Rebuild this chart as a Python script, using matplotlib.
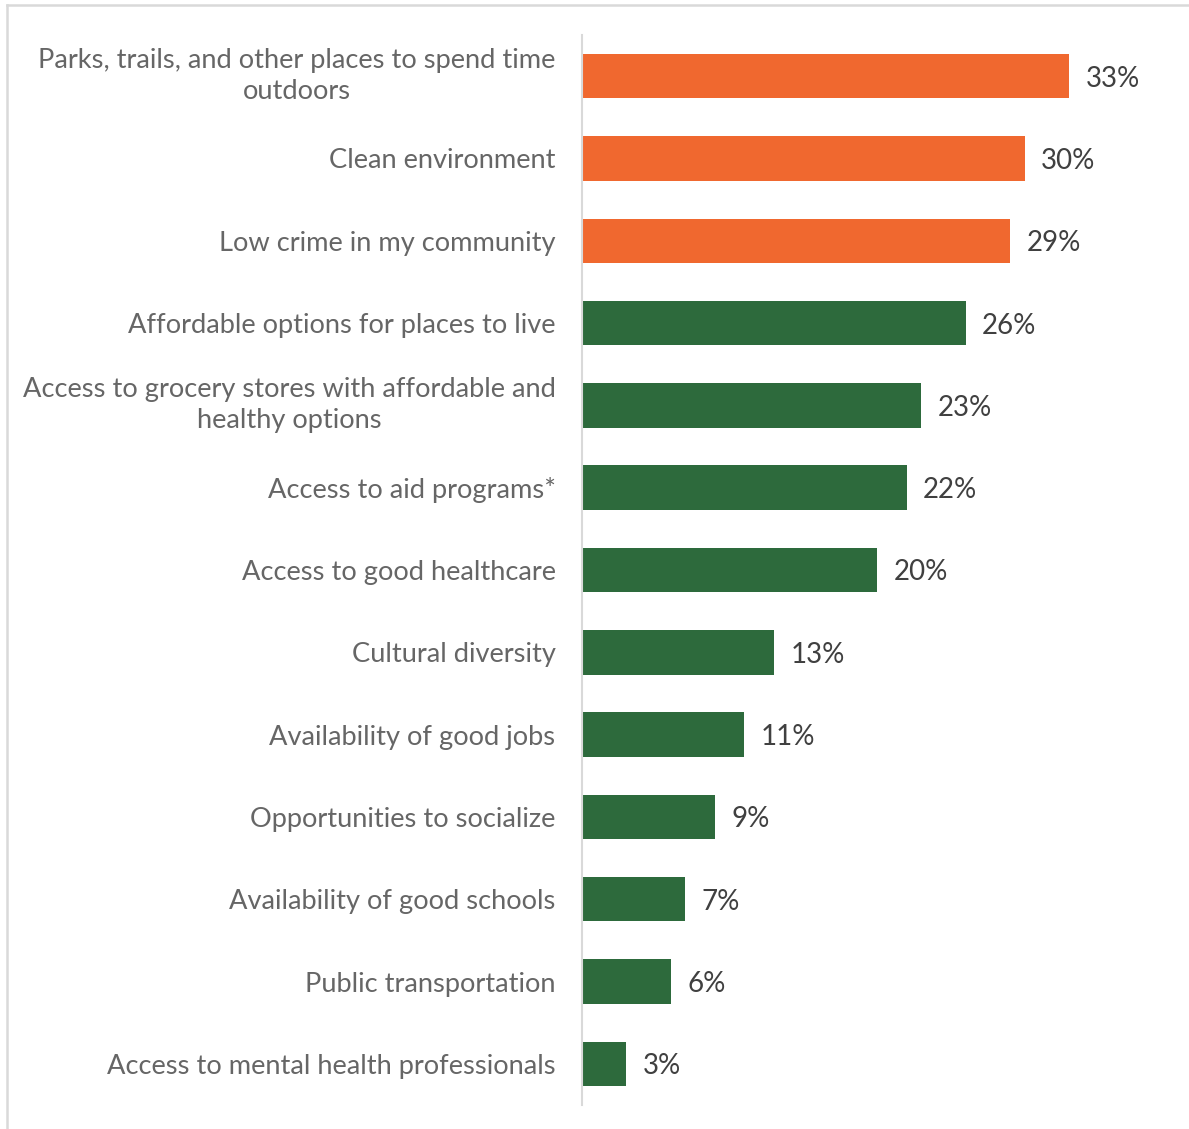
import matplotlib
matplotlib.use("Agg")
import matplotlib.pyplot as plt
from matplotlib.lines import Line2D

categories = [
    "Parks, trails, and other places to spend time\noutdoors",
    "Clean environment",
    "Low crime in my community",
    "Affordable options for places to live",
    "Access to grocery stores with affordable and\nhealthy options",
    "Access to aid programs*",
    "Access to good healthcare",
    "Cultural diversity",
    "Availability of good jobs",
    "Opportunities to socialize",
    "Availability of good schools",
    "Public transportation",
    "Access to mental health professionals",
]
values = [33, 30, 29, 26, 23, 22, 20, 13, 11, 9, 7, 6, 3]
highlight_count = 3

ORANGE = "#F0682F"
GREEN = "#2D6A3C"
LABEL_GRAY = "#666666"
VALUE_GRAY = "#404040"

plt.rcParams["font.family"] = ["Lato", "DejaVu Sans"]

W, H = 1189, 1129
fig = plt.figure(figsize=(W / 100, H / 100), dpi=100)
fig.patch.set_facecolor("white")

ax = fig.add_axes([582 / W, 24 / H, 531 / W, 1070 / H])
colors = [ORANGE if i < highlight_count else GREEN for i in range(len(values))]
ypos = list(range(len(values)))
ax.barh(ypos, values, height=0.54, color=colors)

ax.set_xlim(0, 36)
ax.set_ylim(len(values) - 0.5, -0.5)
ax.set_yticks(ypos)
ax.set_yticklabels(categories, fontsize=19.6, color=LABEL_GRAY, fontweight="normal",
                   multialignment="center", linespacing=1.3)
for lbl in ax.get_yticklabels():
    if "\n" in lbl.get_text():
        lbl.set_verticalalignment("center")
ax.tick_params(axis="y", length=0, pad=19)
ax.set_xticks([])
for side in ("top", "right", "bottom"):
    ax.spines[side].set_visible(False)
ax.spines["left"].set_color("#d9d9d9")
ax.spines["left"].set_linewidth(1.5)

for y, v in zip(ypos, values):
    ax.annotate(f"{v}%", xy=(v, y), xytext=(12, 0), textcoords="offset points",
                ha="left", va="center_baseline", fontsize=20, color=VALUE_GRAY)

# chart frame (top and left edges)
fig.add_artist(Line2D([7 / W, 1], [1 - 5 / H, 1 - 5 / H], transform=fig.transFigure,
                      color="#d9d9d9", lw=1.8))
fig.add_artist(Line2D([7 / W, 7 / W], [0, 1 - 5 / H], transform=fig.transFigure,
                      color="#d9d9d9", lw=1.8))

fig.savefig("out.png", dpi=100)
